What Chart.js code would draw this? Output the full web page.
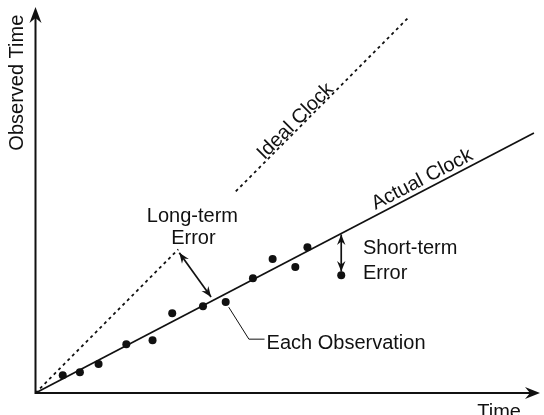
<!DOCTYPE html>
<html>
<head>
<meta charset="utf-8">
<script src="https://cdn.jsdelivr.net/npm/chart.js@4"></script>
<style>
  html, body { margin: 0; padding: 0; background: #fff; }
  #wrap { width: 544px; height: 415px; }
</style>
</head>
<body>
<div id="wrap"><canvas id="chart" width="544" height="415"></canvas></div>
<script>
// axis extents (arbitrary time units)
const xMax = 10;
const yMax = 7.6;

// each observation: (time, observed time)
const obsX = [0.54, 0.88, 1.25, 1.80, 2.32, 2.71, 3.32, 3.77, 4.31, 4.70, 5.15, 5.39, 6.06];
const obsY = [0.35, 0.41, 0.57, 0.96, 1.04, 1.57, 1.71, 1.79, 2.26, 2.64, 2.48, 2.87, 2.32];

// ideal clock is y = x, broken around the long-term error label
const idealLowX = [0, 2.83];
const idealHighX = [3.97, 7.38];

// actual clock runs slow
const actualX = [0, 9.88];
const actualY = [0, 5.12];

// error arrows + callout leader
const longErrX = [2.85, 3.48];
const longErrY = [2.76, 1.89];
const shortErrX = [6.06, 6.06];
const shortErrY = [3.12, 2.39];
const calloutX = [3.83, 4.23, 4.54];
const calloutY = [1.69, 1.06, 1.06];

// text labels, anchored at cap-height centre
const labels = [
  { text: "Observed Time", x: -0.38, y: 6.11, rot: -90, align: "center" },
  { text: "Time", x: 9.19, y: -0.35, rot: 0, align: "center" },
  { text: "Ideal Clock", x: 5.13, y: 5.37, rot: -45, align: "center" },
  { text: "Actual Clock", x: 7.65, y: 4.23, rot: -27.4, align: "center" },
  { text: "Long-term", x: 3.11, y: 3.50, rot: 0, align: "center" },
  { text: "Error", x: 3.13, y: 3.07, rot: 0, align: "center" },
  { text: "Short-term", x: 6.49, y: 2.87, rot: 0, align: "left" },
  { text: "Error", x: 6.49, y: 2.38, rot: 0, align: "left" },
  { text: "Each Observation", x: 4.58, y: 1.00, rot: 0, align: "left" },
];

const ink = "#111";
const fontSize = 20;
const pts = (xs, ys) => xs.map((x, i) => ({ x, y: ys[i] }));

function arrowHead(ctx, tx, ty, ang, len, half, notch) {
  ctx.save();
  ctx.translate(tx, ty);
  ctx.rotate(ang);
  ctx.beginPath();
  ctx.moveTo(0, 0);
  ctx.lineTo(-len, -half);
  ctx.lineTo(-notch, 0);
  ctx.lineTo(-len, half);
  ctx.closePath();
  ctx.fill();
  ctx.restore();
}

function doubleArrow(ctx, x1, y1, x2, y2) {
  ctx.beginPath(); ctx.moveTo(x1, y1); ctx.lineTo(x2, y2); ctx.stroke();
  const a = Math.atan2(y2 - y1, x2 - x1);
  arrowHead(ctx, x2, y2, a, 10.5, 4.2, 7);
  arrowHead(ctx, x1, y1, a + Math.PI, 10.5, 4.2, 7);
}

const sketch = {
  id: "sketch",
  afterDatasetsDraw(chart) {
    const { ctx, scales: { x, y } } = chart;
    const px = (v) => x.getPixelForValue(v);
    const py = (v) => y.getPixelForValue(v);
    ctx.save();
    ctx.strokeStyle = ink;
    ctx.fillStyle = ink;

    // axes with arrow tips
    const ox = px(0), oy = py(0);
    ctx.lineWidth = 2;
    ctx.beginPath();
    ctx.moveTo(ox, py(yMax) + 8); ctx.lineTo(ox, oy); ctx.lineTo(px(xMax) - 8, oy);
    ctx.stroke();
    arrowHead(ctx, px(xMax), oy, 0, 15, 6, 10);
    arrowHead(ctx, ox, py(yMax), -Math.PI / 2, 16, 6, 11);

    // error arrows
    ctx.lineWidth = 1.7;
    doubleArrow(ctx, px(longErrX[0]), py(longErrY[0]), px(longErrX[1]), py(longErrY[1]));
    doubleArrow(ctx, px(shortErrX[0]), py(shortErrY[0]), px(shortErrX[1]), py(shortErrY[1]));

    // callout leader
    ctx.lineWidth = 1;
    ctx.beginPath();
    calloutX.forEach((v, i) => {
      if (i === 0) ctx.moveTo(px(v), py(calloutY[i])); else ctx.lineTo(px(v), py(calloutY[i]));
    });
    ctx.stroke();

    // text
    ctx.font = fontSize + "px 'Liberation Sans', Arial, sans-serif";
    ctx.textBaseline = "alphabetic";
    labels.forEach((l) => {
      ctx.save();
      ctx.translate(px(l.x), py(l.y));
      ctx.rotate(l.rot * Math.PI / 180);
      ctx.textAlign = l.align;
      ctx.fillText(l.text, 0, fontSize * 0.358);
      ctx.restore();
    });
    ctx.restore();
  }
};

new Chart(document.getElementById("chart"), {
  type: "scatter",
  data: {
    datasets: [
      { data: pts(idealLowX, idealLowX), showLine: true, borderColor: ink, borderWidth: 1.8, borderDash: [3, 3.5], pointRadius: 0 },
      { data: pts(idealHighX, idealHighX), showLine: true, borderColor: ink, borderWidth: 1.8, borderDash: [3, 3.5], pointRadius: 0 },
      { data: pts(actualX, actualY), showLine: true, borderColor: ink, borderWidth: 1.7, pointRadius: 0 },
      { data: pts(obsX, obsY), showLine: false, pointRadius: 4, backgroundColor: ink, borderWidth: 0 }
    ]
  },
  options: {
    responsive: false,
    animation: false,
    devicePixelRatio: 1,
    events: [],
    layout: { padding: { left: 35.5, right: 1, top: 7, bottom: 22 } },
    scales: {
      x: { type: "linear", min: 0, max: xMax, display: false },
      y: { type: "linear", min: 0, max: yMax, display: false }
    },
    plugins: { legend: { display: false }, tooltip: { enabled: false } }
  },
  plugins: [sketch]
});
</script>
</body>
</html>
